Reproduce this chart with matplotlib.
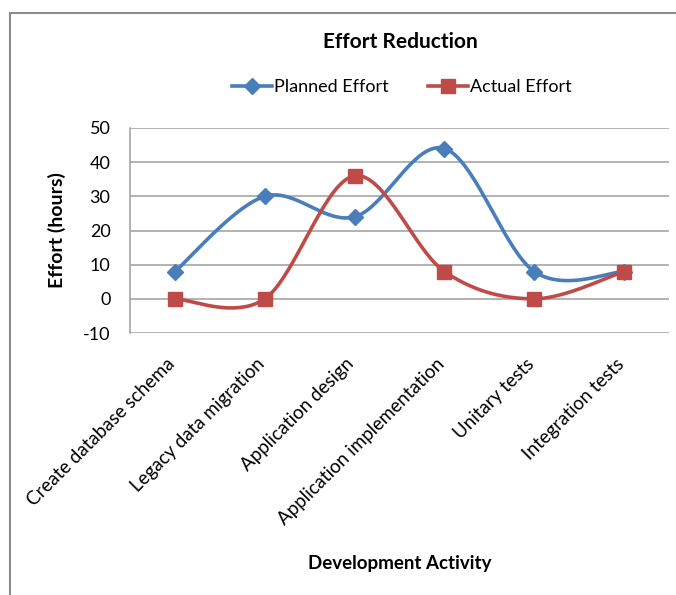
import numpy as np
import matplotlib
matplotlib.use("Agg")
import matplotlib.pyplot as plt
from matplotlib.patches import Rectangle
from matplotlib.lines import Line2D

categories = ["Create database schema", "Legacy data migration", "Application design",
              "Application implementation", "Unitary tests", "Integration tests"]
planned = [8, 30, 24, 44, 8, 8]
actual = [0, 0, 36, 8, 0, 8]
yticks = [-10, 0, 10, 20, 30, 40, 50]

BLUE = "#4A7EBB"
RED = "#BE4B48"
GRID = "#A6A6A6"

plt.rcParams['font.family'] = ['Lato', 'DejaVu Sans']


def smooth(xs, ys, n=40):
    P = np.column_stack([xs, ys]).astype(float)
    m = len(P)
    out = []
    for i in range(m - 1):
        p0 = P[i - 1] if i > 0 else P[i]
        p1 = P[i]
        p2 = P[i + 1]
        p3 = P[i + 2] if i + 2 < m else P[i + 1]
        c1 = p1 + (p2 - p0) / 6.0
        c2 = p2 - (p3 - p1) / 6.0
        t = np.linspace(0, 1, n)[:, None]
        seg = ((1 - t) ** 3) * p1 + 3 * ((1 - t) ** 2) * t * c1 + 3 * (1 - t) * t ** 2 * c2 + t ** 3 * p2
        out.append(seg if i == 0 else seg[1:])
    arr = np.vstack(out)
    return arr[:, 0], arr[:, 1]


fig = plt.figure(figsize=(6.76, 5.95), dpi=100)
fig.patch.set_facecolor("white")

# outer chart frame
fig.patches.append(Rectangle((10 / 676, -0.05), 1.2, 1 - 13 / 595 + 0.05,
                             transform=fig.transFigure, fill=False,
                             edgecolor="#8C8C8C", lw=1.5, zorder=0))

ax = fig.add_axes([130 / 676, 1 - 333 / 595, 539 / 676, 205 / 595])
x = np.arange(len(categories))

sx, sy = smooth(x, planned)
ax.plot(sx, sy, color=BLUE, lw=2.6, solid_capstyle="round", zorder=3)
ax.plot(x, planned, linestyle="none", marker="D", markersize=8, color=BLUE, zorder=4)

sx, sy = smooth(x, actual)
ax.plot(sx, sy, color=RED, lw=2.6, solid_capstyle="round", zorder=3)
ax.plot(x, actual, linestyle="none", marker="s", markersize=10, color=RED, zorder=5)

ax.set_xlim(-0.5, len(categories) - 0.5)
ax.set_ylim(-10, 50)
ax.set_yticks(yticks)
ax.set_yticklabels([str(v) for v in yticks], fontsize=13)
ax.yaxis.grid(True, color=GRID, lw=1.2)
ax.set_axisbelow(True)
for s in ["top", "right", "bottom"]:
    ax.spines[s].set_visible(False)
ax.spines["left"].set_color(GRID)
ax.spines["left"].set_linewidth(1.2)
ax.tick_params(axis="y", length=0, pad=14)
ax.tick_params(axis="x", length=0, pad=16)
ax.set_xticks(x)
ax.set_xticklabels(categories, rotation=45, ha="right", va="top",
                   rotation_mode="anchor", fontsize=13.5)
for lab in ax.get_xticklabels():
    lab.set_transform(lab.get_transform() + matplotlib.transforms.ScaledTranslation(-9 / 100, 0, fig.dpi_scale_trans))

ax.set_ylabel("Effort (hours)", fontsize=14, fontweight="bold", labelpad=12)

fig.text(400 / 676, 1 - 42 / 595, "Effort Reduction", ha="center", va="center",
         fontsize=15, fontweight="bold")
fig.text(400 / 676, 1 - 563 / 595, "Development Activity", ha="center", va="center",
         fontsize=13.5, fontweight="bold")

handles = [Line2D([], [], color=BLUE, lw=2.6, marker="D", markersize=8),
           Line2D([], [], color=RED, lw=2.6, marker="s", markersize=10)]
fig.legend(handles, ["Planned Effort", "Actual Effort"], loc="center",
           bbox_to_anchor=(402 / 676, 1 - 87 / 595), ncol=2, frameon=False,
           fontsize=13, handlelength=2.2, handletextpad=0.1, columnspacing=2.2)

fig.savefig("out.png", dpi=100, facecolor="white")
